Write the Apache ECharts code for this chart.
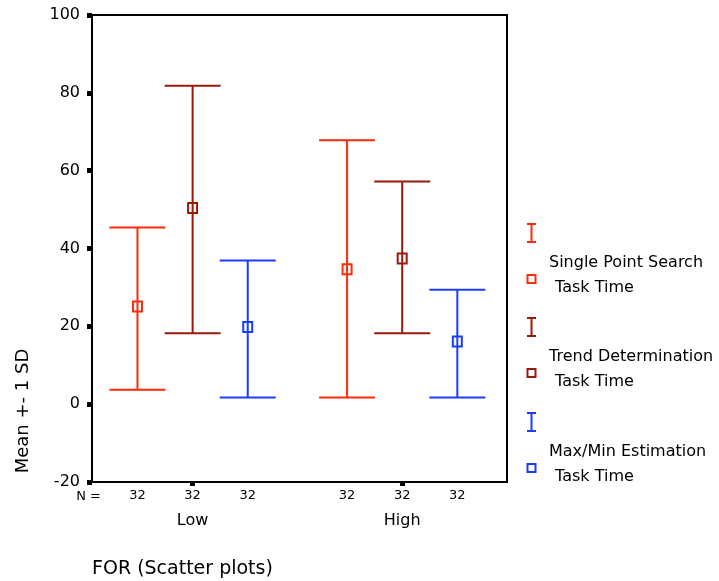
<!DOCTYPE html>
<html>
<head>
<meta charset="utf-8">
<script src="https://cdn.jsdelivr.net/npm/echarts@6/dist/echarts.min.js"></script>
<style>
html,body{margin:0;padding:0;background:#fff;}
#chart{width:719px;height:581px;}
</style>
</head>
<body>
<div id="chart"></div>
<script>
// ---- data ----
var categories = ['Low', 'High'];
var seriesNames = ['Single Point Search Task Time', 'Trend Determination Task Time', 'Max/Min Estimation Task Time'];
var singleMean  = [25.1, 34.7];
var singleLower = [3.7, 1.7];
var singleUpper = [45.4, 67.8];
var trendMean   = [50.4, 37.4];
var trendLower  = [18.2, 18.2];
var trendUpper  = [81.8, 57.2];
var maxminMean  = [19.8, 16.1];
var maxminLower = [1.7, 1.7];
var maxminUpper = [36.9, 29.4];
var singleN = [32, 32];
var trendN  = [32, 32];
var maxminN = [32, 32];
var yTicks = [-20, 0, 20, 40, 60, 80, 100];

// ---- styling ----
var colors = ['#ff2a0a', '#9a1a0a', '#1a3cff'];
var offsets = [-0.263, 0, 0.263];
var FONT = 'DejaVu Sans';
var yMin = yTicks[0], yMax = yTicks[yTicks.length - 1];

function buildData(mean, lower, upper, n, off) {
  return categories.map(function (c, i) {
    return [i + off, lower[i], mean[i], upper[i], n[i]];
  });
}

function renderItem(params, api) {
  var x = api.value(0);
  var lo = api.coord([x, api.value(1)]);
  var m = api.coord([x, api.value(2)]);
  var hi = api.coord([x, api.value(3)]);
  var base = api.coord([x, yMin]);
  var col = api.visual('color');
  var cap = 28;
  var ls = { stroke: col, lineWidth: 2 };
  return {
    type: 'group',
    children: [
      { type: 'line', shape: { x1: hi[0], y1: hi[1], x2: lo[0], y2: lo[1] }, style: ls },
      { type: 'line', shape: { x1: hi[0] - cap, y1: hi[1], x2: hi[0] + cap, y2: hi[1] }, style: ls },
      { type: 'line', shape: { x1: lo[0] - cap, y1: lo[1], x2: lo[0] + cap, y2: lo[1] }, style: ls },
      { type: 'rect', shape: { x: m[0] - 4.5, y: m[1] - 5, width: 9, height: 10 }, style: { fill: 'none', stroke: col, lineWidth: 2 } },
      { type: 'text', style: { text: String(api.value(4)), x: base[0], y: base[1] + 14, align: 'center', verticalAlign: 'middle', fontFamily: FONT, fontSize: 13, fill: '#000' } }
    ]
  };
}

var seriesData = [
  buildData(singleMean, singleLower, singleUpper, singleN, offsets[0]),
  buildData(trendMean, trendLower, trendUpper, trendN, offsets[1]),
  buildData(maxminMean, maxminLower, maxminUpper, maxminN, offsets[2])
];

var series = seriesData.map(function (d, k) {
  return {
    type: 'custom',
    name: seriesNames[k],
    renderItem: renderItem,
    itemStyle: { color: colors[k] },
    encode: { x: 0, y: [1, 2, 3] },
    data: d,
    clip: false,
    silent: true
  };
});

// legend built with graphic elements
var legendLines = [['Single Point Search', ' Task Time'], ['Trend Determination', ' Task Time'], ['Max/Min Estimation', ' Task Time']];
var graphics = [];
var legendTop = [233, 327, 422];
legendLines.forEach(function (lines, k) {
  var y0 = legendTop[k];
  var cx = 531.5;
  var st = { stroke: colors[k], lineWidth: 2 };
  graphics.push({ type: 'line', shape: { x1: cx, y1: y0 - 9, x2: cx, y2: y0 + 9 }, style: st });
  graphics.push({ type: 'line', shape: { x1: cx - 4.5, y1: y0 - 9, x2: cx + 4.5, y2: y0 - 9 }, style: st });
  graphics.push({ type: 'line', shape: { x1: cx - 4.5, y1: y0 + 9, x2: cx + 4.5, y2: y0 + 9 }, style: st });
  graphics.push({ type: 'rect', shape: { x: cx - 4, y: y0 + 42, width: 8, height: 8 }, style: { fill: 'none', stroke: colors[k], lineWidth: 2 } });
  graphics.push({ type: 'text', style: { text: lines[0], x: 549, y: y0 + 30, verticalAlign: 'middle', fontFamily: FONT, fontSize: 16, fill: '#000' } });
  graphics.push({ type: 'text', style: { text: lines[1], x: 550, y: y0 + 55, verticalAlign: 'middle', fontFamily: FONT, fontSize: 16, fill: '#000' } });
});
graphics.push({ type: 'text', style: { text: 'N =', x: 101, y: 497, align: 'right', verticalAlign: 'middle', fontFamily: FONT, fontSize: 13, fill: '#000' } });
graphics.push({ type: 'text', style: { text: 'FOR (Scatter plots)', x: 92, y: 569, verticalAlign: 'middle', fontFamily: FONT, fontSize: 19, fill: '#000' } });
graphics.push({ type: 'text', rotation: Math.PI / 2, x: 23, y: 411, style: { text: 'Mean +- 1 SD', x: 0, y: 0, align: 'center', verticalAlign: 'middle', fontFamily: FONT, fontSize: 18, fill: '#000' } });

var chart = echarts.init(document.getElementById('chart'), null, { renderer: 'canvas' });
chart.setOption({
  animation: false,
  backgroundColor: '#fff',
  grid: { left: 92, right: 212, top: 15, bottom: 99, show: true, borderColor: '#000', borderWidth: 2, backgroundColor: 'transparent' },
  xAxis: {
    type: 'value',
    min: -0.48, max: 1.5,
    axisLine: { show: true, onZero: false, lineStyle: { color: '#000', width: 2 } },
    axisTick: { show: true, customValues: [0, 1], length: 4, lineStyle: { color: '#000', width: 5 } },
    axisLabel: { show: true, customValues: [0, 1], margin: 31, color: '#000', fontFamily: FONT, fontSize: 16,
      formatter: function (v) { return categories[Math.round(v)] || ''; } },
    splitLine: { show: false }
  },
  yAxis: {
    type: 'value',
    min: yMin, max: yMax, interval: 20,
    axisLine: { show: true, onZero: false, lineStyle: { color: '#000', width: 2 } },
    axisTick: { show: true, length: 5, lineStyle: { color: '#000', width: 5 } },
    axisLabel: { margin: 12, color: '#000', fontFamily: FONT, fontSize: 16 },
    splitLine: { show: false }
  },
  series: series,
  graphic: graphics
});
</script>
</body>
</html>
